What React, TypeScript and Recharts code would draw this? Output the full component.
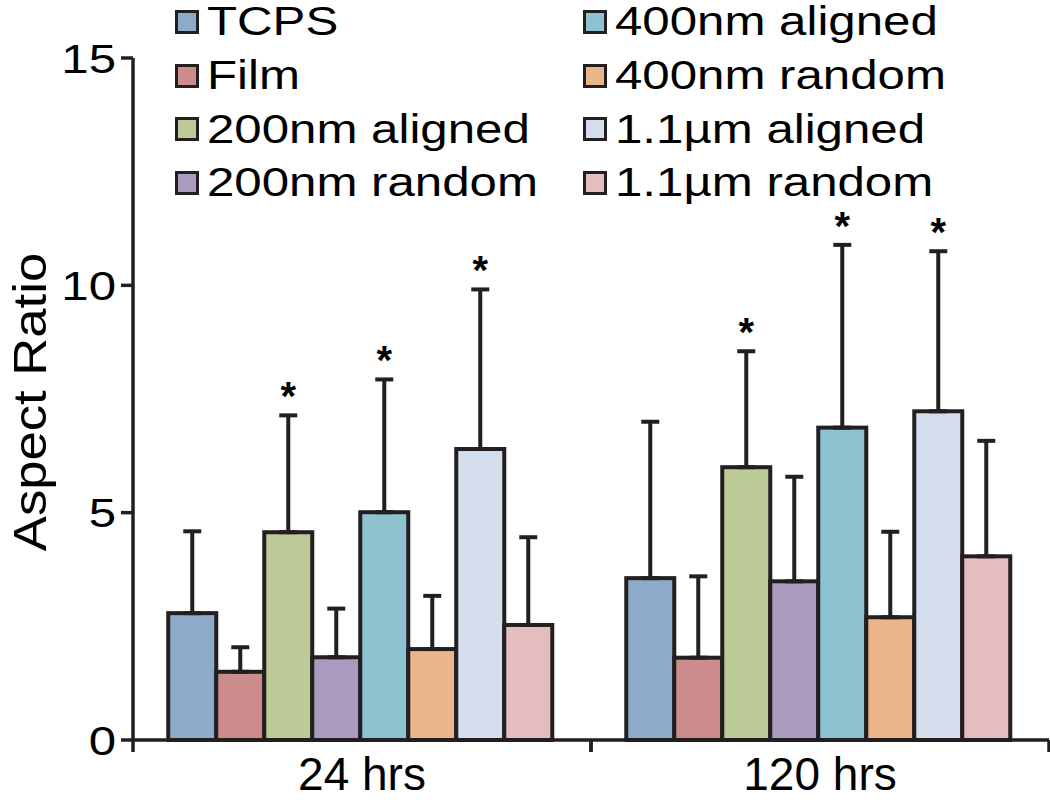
import { BarChart, Bar, XAxis, YAxis, ErrorBar, LabelList, Legend } from "recharts";

const categories = ["24 hrs", "120 hrs"];
const seriesNames = [
  "TCPS",
  "Film",
  "200nm aligned",
  "200nm random",
  "400nm aligned",
  "400nm random",
  "1.1µm aligned",
  "1.1µm random",
];
const seriesColors = [
  "#8eaacb",
  "#cd8c8c",
  "#bbca96",
  "#ab9bbe",
  "#8fc2d1",
  "#e9b58a",
  "#d4deec",
  "#e4bdbf",
];
const mean24 = [2.79, 1.5, 4.57, 1.82, 5.01, 2.0, 6.4, 2.53];
const sd24 = [1.8, 0.54, 2.57, 1.07, 2.92, 1.17, 3.51, 1.93];
const mean120 = [3.56, 1.81, 6.0, 3.49, 6.87, 2.7, 7.23, 4.04];
const sd120 = [3.44, 1.79, 2.55, 2.3, 4.02, 1.88, 3.52, 2.54];
const significant = [false, false, true, false, true, false, true, false];
const yTicks = [0, 5, 10, 15];

const means = [mean24, mean120];
const sds = [sd24, sd120];

const data = categories.map((time, c) => {
  const row: Record<string, any> = { time };
  seriesNames.forEach((_, i) => {
    row[`m${i}`] = means[c][i];
    row[`e${i}`] = [0, sds[c][i]];
  });
  return row;
});

const INK = "#231f20";
const FONT = "'Liberation Sans', Arial, Helvetica, sans-serif";

const YTick = (props: any) => {
  const { x, y, payload } = props;
  return (
    <text
      transform={`translate(${x},${y}) scale(1.2,1)`}
      textAnchor="end"
      dy="0.355em"
      fontSize={41}
      fontFamily={FONT}
      fill="#000"
    >
      {payload.value}
    </text>
  );
};

const XTick = (props: any) => {
  const { x, y, payload } = props;
  const half = payload.offset ?? 229;
  return (
    <g>
      <line x1={x - half} x2={x - half} y1={y} y2={y + 12} stroke={INK} strokeWidth={3.5} />
      <line x1={x + half} x2={x + half} y1={y} y2={y + 12} stroke={INK} strokeWidth={3.5} />
      <text x={x} y={y + 50} textAnchor="middle" fontSize={46} fontFamily={FONT} fill="#000">
        {payload.value}
      </text>
    </g>
  );
};

// outlined bar
const OutlinedBar = (p: any) => (
  <rect x={p.x} y={p.y} width={p.width} height={p.height} fill={p.fill} stroke={INK} strokeWidth={4} />
);

// asterisk drawn just above the top of the error bar
const starFor = (series: number) => (props: any) => {
  const vb = props.viewBox ?? props;
  const { x, y, width, height } = vb;
  const idx = props.index ?? 0;
  const v = means[idx][series];
  const ppu = height / v;
  const capY = y - sds[idx][series] * ppu;
  return (
    <text
      x={x + width / 2}
      y={capY - 5}
      textAnchor="middle"
      fontSize={40}
      fontWeight="bold"
      fontFamily={FONT}
      fill="#000"
    >
      *
    </text>
  );
};

const LegendGrid = () => {
  const cols = [seriesNames.slice(0, 4), seriesNames.slice(4)];
  return (
    <div style={{ display: "flex", fontFamily: FONT }}>
      {cols.map((col, ci) => (
        <div key={ci} style={{ width: 408 }}>
          {col.map((name, ri) => {
            const i = ci * 4 + ri;
            return (
              <div key={name} style={{ display: "flex", alignItems: "center", height: 53.7 }}>
                <span
                  style={{
                    width: 18,
                    height: 18,
                    background: seriesColors[i],
                    border: `3px solid ${INK}`,
                    marginRight: 8,
                    flex: "none",
                  }}
                />
                <span
                  style={{
                    fontSize: 41,
                    lineHeight: 1,
                    color: "#000",
                    whiteSpace: "nowrap",
                    display: "inline-block",
                    transform: "scaleX(1.2)",
                    transformOrigin: "left center",
                  }}
                >
                  {name}
                </span>
              </div>
            );
          })}
        </div>
      ))}
    </div>
  );
};

export default function App() {
  return (
    <div style={{ position: "absolute", left: 0, top: 0, width: 1050, height: 800, background: "#fff" }}>
      <BarChart
        width={1050}
        height={800}
        data={data}
        margin={{ top: 58, right: 1, left: 0, bottom: 0 }}
        barCategoryGap="7.7%"
        barGap={0}
      >
        <XAxis
          dataKey="time"
          height={60}
          axisLine={{ stroke: INK, strokeWidth: 3.5 }}
          tickLine={false}
          tickSize={0}
          tickMargin={0}
          tick={<XTick />}
          interval={0}
        />
        <YAxis
          width={133}
          domain={[0, 15]}
          ticks={yTicks}
          interval={0}
          axisLine={{ stroke: INK, strokeWidth: 3.5 }}
          tickLine={{ stroke: INK, strokeWidth: 3.5 }}
          tickSize={12}
          tickMargin={5}
          tick={<YTick />}
          label={{
            content: () => (
              <text
                transform="translate(46,402) rotate(-90) scale(1.12,1)"
                textAnchor="middle"
                fontSize={47}
                fontFamily={FONT}
                fill="#000"
              >
                Aspect Ratio
              </text>
            ),
          }}
        />
        <Legend
          layout="vertical"
          verticalAlign="middle"
          align="center"
          wrapperStyle={{ top: -5, left: 175, width: 830, height: 215 }}
          content={() => <LegendGrid />}
        />
        {seriesNames.map((name, i) => (
          <Bar
            key={name}
            dataKey={`m${i}`}
            name={name}
            fill={seriesColors[i]}
            stroke={INK}
            strokeWidth={4}
            shape={OutlinedBar}
            isAnimationActive={false}
          >
            <ErrorBar
              dataKey={`e${i}`}
              direction="y"
              width={9}
              stroke={INK}
              strokeWidth={4}
              isAnimationActive={false}
            />
            {significant[i] && <LabelList dataKey={`m${i}`} content={starFor(i)} />}
          </Bar>
        ))}
      </BarChart>
    </div>
  );
}
